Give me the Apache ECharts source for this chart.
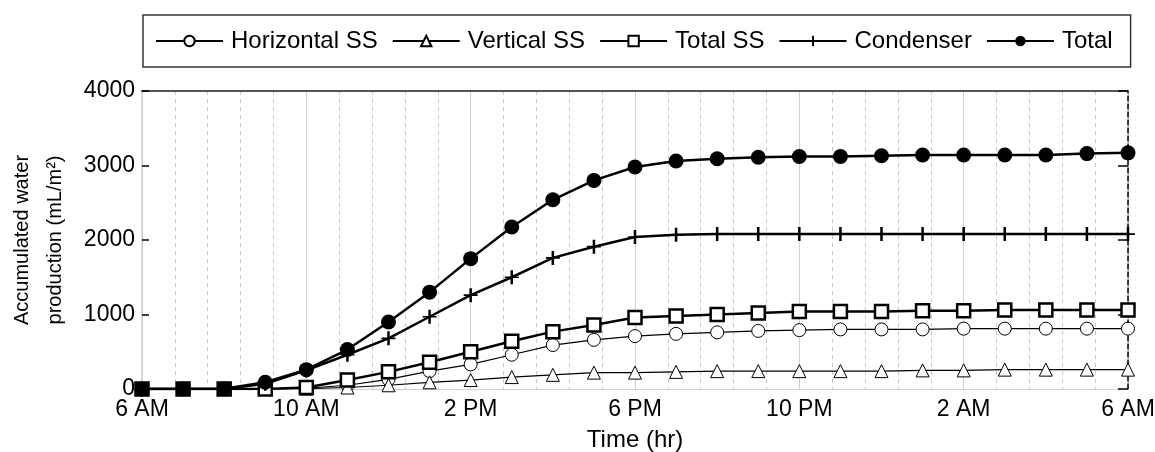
<!DOCTYPE html>
<html>
<head>
<meta charset="utf-8">
<script src="https://cdn.jsdelivr.net/npm/echarts@6/dist/echarts.min.js"></script>
<style>
  html, body { margin: 0; padding: 0; background: #fff; }
  #chart { width: 1155px; height: 452px; }
</style>
</head>
<body>
<div id="chart"></div>
<script>
// hours after 6 AM
const hours = [0, 1, 2, 3, 4, 5, 6, 7, 8, 9, 10, 11, 12, 13, 14, 15, 16, 17, 18, 19, 20, 21, 22, 23, 24];
const xTickLabels = ['6 AM', '10 AM', '2 PM', '6 PM', '10 PM', '2 AM', '6 AM'];

const horizontalSS = [0, 0, 0, 0, 10, 50, 130, 240, 330, 460, 590, 660, 710, 740, 760, 780, 790, 800, 800, 800, 810, 810, 810, 810, 810];
const verticalSS = [0, 0, 0, 0, 5, 20, 50, 90, 120, 160, 190, 220, 220, 230, 240, 240, 240, 240, 240, 250, 250, 260, 260, 260, 260];
const totalSS = [0, 0, 0, 0, 20, 120, 230, 360, 500, 640, 770, 860, 960, 980, 1000, 1020, 1040, 1040, 1040, 1050, 1050, 1060, 1060, 1060, 1060];
const condenser = [0, 0, 0, 70, 250, 460, 680, 970, 1260, 1500, 1760, 1910, 2040, 2070, 2080, 2080, 2080, 2080, 2080, 2080, 2080, 2080, 2080, 2080, 2080];
const total = [0, 0, 5, 90, 260, 530, 900, 1300, 1750, 2175, 2540, 2800, 2980, 3060, 3090, 3110, 3120, 3120, 3130, 3140, 3140, 3140, 3140, 3160, 3170];

const font = 'Liberation Sans, Arial, sans-serif';
const pairs = (vals) => hours.map((h, i) => [h, vals[i]]);
// plus marker for the condenser line
const plus = 'path://M4.1,0 L5.9,0 L5.9,10 L4.1,10 Z M0,4.4 L10,4.4 L10,5.6 L0,5.6 Z';

const chart = echarts.init(document.getElementById('chart'));

const thin = (name, vals, symbol) => ({
  name: name,
  type: 'line',
  data: pairs(vals),
  symbol: symbol,
  symbolSize: 13,
  lineStyle: { color: '#000', width: 1.2 },
  itemStyle: { color: '#fff', borderColor: '#000', borderWidth: 1 },
  z: 2
});

chart.setOption({
  animation: false,
  legend: {
    left: 143,
    top: 15,
    padding: [14, 18, 14, 12],
    borderColor: '#333',
    borderWidth: 1.5,
    itemWidth: 67,
    itemHeight: 13,
    itemGap: 14,
    textStyle: { fontFamily: font, fontSize: 24, color: '#000', padding: [0, 0, 0, 3] },
    data: ['Horizontal SS', 'Vertical SS', 'Total SS', 'Condenser', 'Total']
  },
  grid: { left: 142, right: 27, top: 91, bottom: 63, outerBoundsMode: 'none' },
  xAxis: [{
    type: 'value',
    min: 0,
    max: 24,
    interval: 4,
    name: 'Time (hr)',
    nameLocation: 'middle',
    nameGap: 39,
    nameTextStyle: { fontFamily: font, fontSize: 24, color: '#000' },
    axisLine: { onZero: false, lineStyle: { color: '#d4d0c8', width: 1 } },
    axisTick: { show: false },
    axisLabel: {
      fontFamily: font, fontSize: 23, color: '#000', margin: 9,
      formatter: (v) => xTickLabels[v / 4]
    },
    splitLine: { show: true, lineStyle: { color: '#d4d0c8', width: 1 } },
    minorTick: { show: false, splitNumber: 5 },
    minorSplitLine: { show: true, lineStyle: { color: '#ccc8c0', width: 1, type: [4, 4] } }
  }, {
    type: 'value',
    position: 'top',
    min: 0,
    max: 24,
    interval: 4,
    axisLine: { show: true, onZero: false, lineStyle: { color: '#555', width: 2 } },
    axisTick: { show: false },
    axisLabel: { show: false },
    splitLine: { show: false }
  }],
  yAxis: [{
    type: 'value',
    min: 0,
    max: 4000,
    interval: 1000,
    name: 'Accumulated water\nproduction (mL/m²)',
    nameLocation: 'middle',
    nameGap: 70,
    nameTextStyle: { fontFamily: font, fontSize: 20, color: '#000', lineHeight: 33 },
    axisLine: { show: true, onZero: false, lineStyle: { color: '#d4d0c8', width: 1.5 } },
    axisTick: { show: true, inside: true, length: 7, lineStyle: { color: '#000', width: 1.5 } },
    axisLabel: { fontFamily: font, fontSize: 23, color: '#000', margin: 7, formatter: (v) => String(v) },
    splitLine: { show: false }
  }, {
    type: 'value',
    position: 'right',
    min: 0,
    max: 4000,
    interval: 1000,
    axisLine: { show: true, onZero: false, lineStyle: { color: '#000', width: 1.5, type: [5, 3] } },
    axisTick: { show: true, inside: true, length: 10, lineStyle: { color: '#000', width: 1.5 } },
    axisLabel: { show: false },
    splitLine: { show: false }
  }],
  series: [
    thin('Horizontal SS', horizontalSS, 'circle'),
    thin('Vertical SS', verticalSS, 'triangle'),
    {
      name: 'Total SS',
      type: 'line',
      data: pairs(totalSS),
      symbol: 'rect',
      symbolSize: 13,
      lineStyle: { color: '#000', width: 2.5 },
      itemStyle: { color: '#fff', borderColor: '#000', borderWidth: 2.5 },
      z: 3
    },
    {
      name: 'Condenser',
      type: 'line',
      data: pairs(condenser),
      symbol: plus,
      symbolSize: 14,
      lineStyle: { color: '#000', width: 2.5 },
      itemStyle: { color: '#000' },
      z: 3
    },
    {
      name: 'Total',
      type: 'line',
      data: pairs(total),
      symbol: 'circle',
      symbolSize: 15,
      lineStyle: { color: '#000', width: 2.5 },
      itemStyle: { color: '#000' },
      z: 4
    }
  ]
});
</script>
</body>
</html>
